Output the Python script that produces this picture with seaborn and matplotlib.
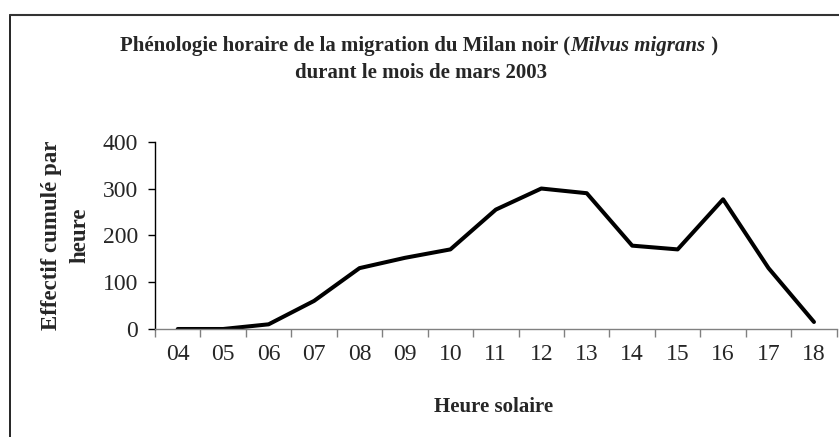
import matplotlib
matplotlib.use("Agg")
import matplotlib.pyplot as plt
import seaborn as sns
import pandas as pd
from matplotlib.lines import Line2D

hours = ["04", "05", "06", "07", "08", "09", "10", "11", "12", "13", "14", "15", "16", "17", "18"]
counts = [0, 0, 10, 60, 130, 152, 170, 255, 300, 290, 178, 170, 277, 130, 15]
yticks = [0, 100, 200, 300, 400]

sns.set_theme(style="white")
plt.rcParams["font.family"] = ["Liberation Serif", "DejaVu Serif"]

df = pd.DataFrame({"heure": hours, "effectif": counts})
df["pos"] = range(len(hours))

fig = plt.figure(figsize=(8.39, 4.37), dpi=100)
ax = fig.add_axes([155 / 839, 1 - 329 / 437, (836.7 - 155) / 839, (329 - 141.7) / 437])

sns.lineplot(data=df, x="pos", y="effectif", color="black", linewidth=2.9, ax=ax)

ax.set_xlim(-0.5, len(hours) - 0.5)
ax.set_ylim(0, 400)
ax.set_yticks(yticks)
ax.set_yticklabels([str(v) for v in yticks], fontsize=17)
ax.set_xticks([i - 0.5 for i in range(len(hours) + 1)])
ax.set_xticklabels([])
ax.set_xticks(range(len(hours)), minor=True)
ax.set_xticklabels(hours, minor=True, fontsize=17)
ax.tick_params(axis="x", which="major", direction="out", length=6, width=1, color="#808080", bottom=True)
ax.tick_params(axis="x", which="minor", length=0, pad=11)
ax.tick_params(axis="y", direction="out", length=5, width=1, color="black", left=True, pad=7)
for s in ["top", "right"]:
    ax.spines[s].set_visible(False)
ax.spines["left"].set_color("black")
ax.spines["left"].set_linewidth(1)
ax.spines["bottom"].set_color("#808080")
ax.spines["bottom"].set_linewidth(1)
ax.set_xlabel("")
ax.set_ylabel("")
ax.grid(False)

fig.text(494 / 839, 1 - 407 / 437, "Heure solaire", ha="center", va="center",
         fontsize=15, fontweight="bold")
fig.text(66 / 839, 1 - 235 / 437, "Effectif cumulé par\nheure", ha="center", va="center",
         rotation=90, fontsize=16.5, fontweight="bold", linespacing=1.45)

# title with italic species name
fig.canvas.draw()
renderer = fig.canvas.get_renderer()
parts = [("Phénologie horaire de la migration du Milan noir (", "normal"),
         ("Milvus migrans", "italic"),
         (" )", "normal")]
y1 = 1 - 46 / 437
texts = []
for s, st in parts:
    t = fig.text(0, y1, s, ha="left", va="center", fontsize=15, fontweight="bold", fontstyle=st)
    texts.append(t)
widths = [t.get_window_extent(renderer).width for t in texts]
total = sum(widths)
x0 = 419 - total / 2
for t, w in zip(texts, widths):
    t.set_x(x0 / 839)
    x0 += w
fig.text(421 / 839, 1 - 73 / 437, "durant le mois de mars 2003", ha="center", va="center",
         fontsize=15, fontweight="bold")

# outer frame (chart area border, bottom and right cut off)
fig.add_artist(Line2D([10 / 839, 10 / 839], [0, 1 - 15 / 437], color="black", linewidth=1.2,
                      transform=fig.transFigure))
fig.add_artist(Line2D([10 / 839, 1], [1 - 15 / 437, 1 - 15 / 437], color="#333333", linewidth=1.5,
                      transform=fig.transFigure))

fig.savefig("out.png", dpi=100)
